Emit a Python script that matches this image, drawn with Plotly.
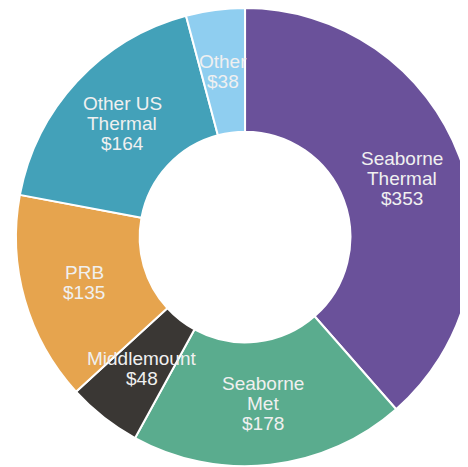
import math
import plotly.graph_objects as go

labels = ["Seaborne Thermal", "Seaborne Met", "Middlemount", "PRB", "Other US Thermal", "Other"]
label_lines = [["Seaborne", "Thermal"], ["Seaborne", "Met"], ["Middlemount"], ["PRB"], ["Other US", "Thermal"], ["Other"]]
values = [353, 178, 48, 135, 164, 38]
colors = ["#6a519a", "#5aac8e", "#3a3734", "#e6a44e", "#43a1b9", "#8fcef0"]

W, H = 468, 467
HOLE = 0.46
DOM_X = [0.017, 0.996]
DOM_Y = [0.019, 1.0]
FONT = dict(family="Liberation Sans, Arial, sans-serif", size=19, color="#f0f0f0")
LINE_H = 20

fig = go.Figure(go.Pie(
    labels=labels,
    values=values,
    hole=HOLE,
    sort=False,
    direction="clockwise",
    rotation=0,
    marker=dict(colors=colors, line=dict(color="white", width=2)),
    textinfo="none",
    hoverinfo="label+value",
    showlegend=False,
    domain=dict(x=DOM_X, y=DOM_Y),
))

# labels at mid-angle / mid-radius of each slice
cx = (DOM_X[0] + DOM_X[1]) / 2
cy = (DOM_Y[0] + DOM_Y[1]) / 2
radius = min((DOM_X[1] - DOM_X[0]) * W, (DOM_Y[1] - DOM_Y[0]) * H) / 2
r_mid = radius * (1 + HOLE) / 2
total = sum(values)
cum = 0
annotations = []
for lines, v in zip(label_lines, values):
    ang = 2 * math.pi * (cum + v / 2) / total
    cum += v
    dx = r_mid * math.sin(ang)
    dy = r_mid * math.cos(ang)
    all_lines = lines + [f"${v}"]
    n = len(all_lines)
    for i, t in enumerate(all_lines):
        off = ((n - 1) / 2 - i) * LINE_H
        annotations.append(dict(
            x=cx, y=cy, xref="paper", yref="paper",
            xshift=dx, yshift=dy + off,
            text=t, showarrow=False, font=FONT,
            xanchor="center", yanchor="middle",
        ))

fig.update_layout(
    width=W, height=H,
    margin=dict(l=0, r=0, t=0, b=0),
    paper_bgcolor="white",
    annotations=annotations,
)
fig.write_html("out.html")
